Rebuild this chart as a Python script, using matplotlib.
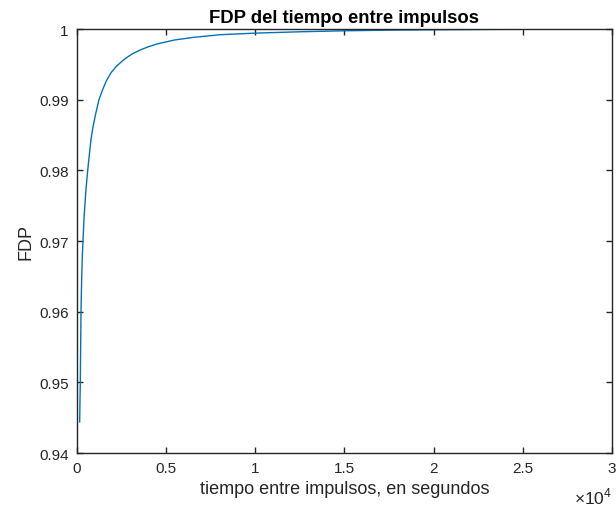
import matplotlib
matplotlib.use('Agg')
import matplotlib.pyplot as plt
from matplotlib.ticker import FuncFormatter

plt.rcParams['font.family'] = ['Liberation Sans', 'DejaVu Sans']
plt.rcParams['mathtext.fontset'] = 'custom'
plt.rcParams['mathtext.rm'] = 'Liberation Sans'

# tiempo entre impulsos (s) y su FDP
tiempo = [150, 165, 185, 205, 225, 260, 300, 335, 400, 500, 600, 700, 785,
          900, 1030, 1230, 1450, 1650, 1900, 2200, 2500, 2750, 3100, 3600,
          4000, 4500, 5450, 6500, 8000, 10000, 12500, 15000, 17500, 20000,
          23000, 26000]
fdp = [0.9444, 0.9470, 0.9500, 0.9550, 0.9600, 0.9645, 0.9680, 0.9700,
       0.9735, 0.9772, 0.9800, 0.9824, 0.9844, 0.9862, 0.9878, 0.9900,
       0.9915, 0.9927, 0.9938, 0.9947, 0.9954, 0.9959, 0.9965, 0.9971,
       0.9975, 0.9979, 0.99845, 0.99882, 0.99920, 0.99943, 0.99962,
       0.99976, 0.99985, 0.99990, 0.99995, 0.99998]

x_ticks = [0, 5000, 10000, 15000, 20000, 25000, 30000]
y_ticks = [0.94, 0.95, 0.96, 0.97, 0.98, 0.99, 1.0]

fig = plt.figure(figsize=(6.16, 5.10), dpi=100)
ax = fig.add_axes([0.125, 0.1098, 0.8685, 0.8312])

ax.plot(tiempo, fdp, color='#0072BD', linewidth=1.0)

ax.set_xlim(0, 30000)
ax.set_ylim(0.94, 1.0)
ax.set_xticks(x_ticks)
ax.set_yticks(y_ticks)
ax.xaxis.set_major_formatter(FuncFormatter(lambda v, p: f'{v / 1e4:g}'))
ax.yaxis.set_major_formatter(FuncFormatter(lambda v, p: f'{v:g}'))

for s in ax.spines.values():
    s.set_color('#262626')
    s.set_linewidth(1.0)
ax.tick_params(direction='in', length=4, width=1.0, colors='#262626',
               labelsize=11, top=True, right=True, pad=6)

ax.set_title('FDP del tiempo entre impulsos', fontsize=13.3, fontweight='bold',
             color='black', pad=5)
ax.set_xlabel('tiempo entre impulsos, en segundos', fontsize=13,
              color='#262626', labelpad=3)
ax.set_ylabel('FDP', fontsize=13, color='#262626', labelpad=3)

# factor de escala del eje x
fig.text(0.9935, 0.026, r'$\times10^{4}$', ha='right', va='center',
         fontsize=12.5, color='#262626')

fig.savefig('out.png', dpi=100)
